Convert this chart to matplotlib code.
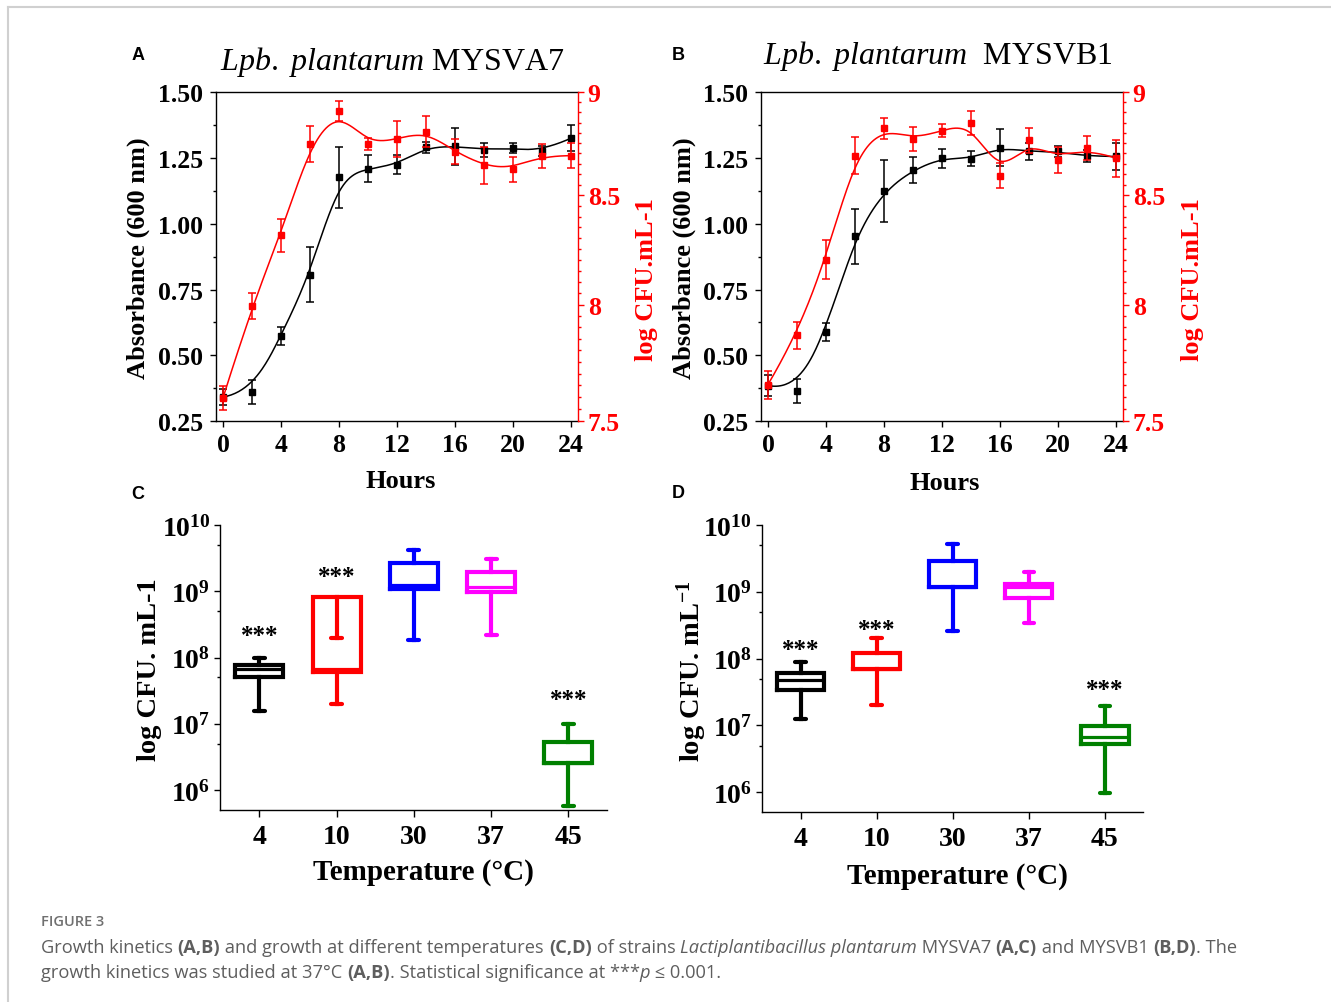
import numpy as np
import matplotlib
matplotlib.use("Agg")
import matplotlib.pyplot as plt
from matplotlib.ticker import (FixedLocator, FixedFormatter, MultipleLocator,
                               NullFormatter, FormatStrFormatter, FuncFormatter)
from matplotlib.lines import Line2D
from matplotlib.transforms import IdentityTransform

# ---------------- data ----------------
hours = [0, 2, 4, 6, 8, 10, 12, 14, 16, 18, 20, 22, 24]

A_od = [0.341, 0.360, 0.573, 0.806, 1.176, 1.209, 1.225, 1.291, 1.295, 1.282, 1.288, 1.276, 1.325]
A_od_err = [0.03, 0.045, 0.033, 0.105, 0.117, 0.052, 0.035, 0.02, 0.07, 0.027, 0.02, 0.02, 0.05]
A_cfu = [7.596, 7.996, 8.313, 8.746, 8.909, 8.746, 8.770, 8.806, 8.709, 8.642, 8.625, 8.689, 8.689]
A_cfu_err = [0.049, 0.058, 0.078, 0.089, 0.05, 0.03, 0.089, 0.076, 0.06, 0.088, 0.06, 0.058, 0.061]

B_od = [0.385, 0.363, 0.588, 0.953, 1.124, 1.204, 1.250, 1.247, 1.290, 1.275, 1.275, 1.257, 1.256]
B_od_err = [0.04, 0.045, 0.035, 0.105, 0.117, 0.05, 0.036, 0.028, 0.07, 0.033, 0.02, 0.022, 0.05]
B_cfu = [7.653, 7.865, 8.202, 8.689, 8.822, 8.770, 8.811, 8.847, 8.594, 8.763, 8.669, 8.725, 8.677]
B_cfu_err = [0.06, 0.06, 0.088, 0.09, 0.051, 0.058, 0.032, 0.06, 0.061, 0.061, 0.063, 0.059, 0.09]

od_ticks = [0.25, 0.50, 0.75, 1.00, 1.25, 1.50]
cfu_ticks = [7.5, 8.0, 8.5, 9.0]
hour_ticks = [0, 4, 8, 12, 16, 20, 24]

temperatures = ["4", "10", "30", "37", "45"]
box_colors = ["#000000", "#ff0000", "#0000ff", "#ff00ff", "#008000"]

C_whislo = [1.54e7, 2.0e7, 1.84e8, 2.16e8, 5.8e5]
C_q1 = [5.0e7, 6.0e7, 1.08e9, 9.6e8, 2.6e6]
C_med = [6.7e7, 6.7e7, 1.24e9, 1.17e9, 2.6e6]
C_q3 = [7.7e7, 8.3e8, 2.64e9, 1.95e9, 5.4e6]
C_whishi = [1.0e8, 2.0e8, 4.25e9, 3.03e9, 1.0e7]
C_stars = [2.18e8, 1.65e9, None, None, 2.3e7]

D_whislo = [1.25e7, 2.03e7, 2.6e8, 3.4e8, 9.7e5]
D_q1 = [3.44e7, 7.0e7, 1.17e9, 8.1e8, 5.3e6]
D_med = [4.85e7, 7.0e7, 1.17e9, 1.17e9, 6.7e6]
D_q3 = [6.0e7, 1.22e8, 2.86e9, 1.31e9, 9.7e6]
D_whishi = [9.0e7, 2.0e8, 5.2e9, 1.96e9, 1.98e7]
D_stars = [1.37e8, 2.7e8, None, None, 3.4e7]

log_ticks = [1e6, 1e7, 1e8, 1e9, 1e10]
log_tick_labels = [r"$\mathbf{10^{6}}$", r"$\mathbf{10^{7}}$", r"$\mathbf{10^{8}}$",
                   r"$\mathbf{10^{9}}$", r"$\mathbf{10^{10}}$"]
log_minor = [5e6, 5e7, 5e8, 5e9]

# ---------------- style ----------------
plt.rcParams["font.family"] = ["Liberation Serif", "DejaVu Serif"]
plt.rcParams["font.weight"] = "bold"
plt.rcParams["mathtext.fontset"] = "custom"
plt.rcParams["mathtext.rm"] = "Liberation Serif:weight=normal"
plt.rcParams["mathtext.it"] = "Liberation Serif:style=italic:weight=normal"
plt.rcParams["mathtext.bf"] = "Liberation Serif:weight=bold"
plt.rcParams["axes.linewidth"] = 1.0

W, H = 1331, 1003
fig = plt.figure(figsize=(W / 100, H / 100), dpi=100)
fig.patch.set_facecolor("white")


def rect_px(left, top, right, bottom):
    return [left / W, 1 - bottom / H, (right - left) / W, (bottom - top) / H]


def ftext(x, y, s, **kw):
    """text at figure pixel coordinates (origin top-left)"""
    return fig.text(x / W, 1 - y / H, s, **kw)


def bspline_curve(x, y, num=400, k=3):
    P = np.column_stack([x, y]).astype(float)
    m = len(P)
    knots = np.concatenate([np.zeros(k), np.arange(m - k + 1), np.full(k, m - k)]).astype(float)
    u = np.linspace(0, m - k, num)
    u[-1] = (m - k) - 1e-9
    B = np.array([(knots[i] <= u) & (u < knots[i + 1]) for i in range(len(knots) - 1)], dtype=float)
    for p in range(1, k + 1):
        Bn = np.zeros((len(knots) - 1 - p, num))
        for i in range(len(knots) - 1 - p):
            d1 = knots[i + p] - knots[i]
            d2 = knots[i + p + 1] - knots[i + 1]
            t1 = (u - knots[i]) / d1 * B[i] if d1 > 0 else 0
            t2 = (knots[i + p + 1] - u) / d2 * B[i + 1] if d2 > 0 else 0
            Bn[i] = t1 + t2
        B = Bn
    Cc = B.T @ P
    return Cc[:, 0], Cc[:, 1]


LBL = 19
TCK = 18.5


def growth_panel(rect, t, od, od_err, cfu, cfu_err):
    ax = fig.add_axes(rect)
    ax2 = ax.twinx()
    ax2.set_yscale("log")
    xs, ys = bspline_curve(t, od)
    ax.plot(xs, ys, color="black", lw=1.1, zorder=2)
    ax.errorbar(t, od, yerr=od_err, fmt="s", color="black", ms=5, capsize=3,
                elinewidth=1.1, capthick=1.1, zorder=3)
    # spline drawn in screen (log) space of the right axis
    xs, ys = bspline_curve(t, np.log10(cfu))
    ax2.plot(xs, 10 ** ys, color="red", lw=1.1, zorder=2)
    ax2.errorbar(t, cfu, yerr=cfu_err, fmt="s", color="red", ms=5, capsize=3,
                 elinewidth=1.1, capthick=1.1, zorder=3)

    ax.set_xlim(-0.5, 24.5)
    ax.set_ylim(0.25, 1.5)
    ax.xaxis.set_major_locator(FixedLocator(hour_ticks))
    ax.yaxis.set_major_locator(FixedLocator(od_ticks))
    ax.yaxis.set_major_formatter(FormatStrFormatter("%.2f"))
    ax.yaxis.set_minor_locator(MultipleLocator(0.125))
    ax.tick_params(axis="both", which="major", direction="out", length=4, width=1,
                   labelsize=TCK, pad=5)
    ax.tick_params(axis="y", which="minor", direction="out", length=2.5, width=1)
    ax.spines["right"].set_visible(False)

    ax2.set_ylim(7.5, 9.0)
    ax2.yaxis.set_major_locator(FixedLocator(cfu_ticks))
    ax2.yaxis.set_major_formatter(FuncFormatter(lambda v, p: f"{v:g}"))
    ax2.yaxis.set_minor_locator(MultipleLocator(0.05))
    ax2.yaxis.set_minor_formatter(NullFormatter())
    ax2.tick_params(axis="y", which="major", direction="out", length=4, width=1,
                    labelsize=TCK, pad=3, colors="red")
    ax2.tick_params(axis="y", which="minor", direction="out", length=2.5, width=1, colors="red")
    for s in ["left", "top", "bottom"]:
        ax2.spines[s].set_visible(False)
    ax2.spines["right"].set_color("red")
    return ax, ax2


def box_panel(rect, whislo, q1, med, q3, whishi, stars):
    ax = fig.add_axes(rect)
    ax.set_yscale("log")
    stats = [dict(med=med[i], q1=q1[i], q3=q3[i], whislo=whislo[i], whishi=whishi[i], fliers=[])
             for i in range(len(temperatures))]
    pos = list(range(1, len(temperatures) + 1))
    art = ax.bxp(stats, positions=pos, widths=0.62, capwidths=0.14, showfliers=False,
                 manage_ticks=False)
    for i, c in enumerate(box_colors):
        art["boxes"][i].set(color=c, lw=3.0, solid_joinstyle="miter")
        art["medians"][i].set(color=c, lw=2.3)
        for j in (2 * i, 2 * i + 1):
            art["whiskers"][j].set(color=c, lw=3.0)
            art["caps"][j].set(color=c, lw=3.0, solid_capstyle="round")
    for p, s in zip(pos, stars):
        if s is not None:
            ax.text(p, s, "***", ha="center", va="center", fontsize=18, color="black")
    ax.set_ylim(5e5, 1e10)
    ax.set_xlim(0.49, 5.5)
    ax.yaxis.set_major_locator(FixedLocator(log_ticks))
    ax.yaxis.set_major_formatter(FixedFormatter(log_tick_labels))
    ax.yaxis.set_minor_locator(FixedLocator(log_minor))
    ax.yaxis.set_minor_formatter(NullFormatter())
    ax.set_xticks(pos)
    ax.set_xticklabels(temperatures)
    ax.tick_params(axis="y", which="major", direction="out", length=4, width=1,
                   labelsize=20, pad=3)
    ax.tick_params(axis="y", which="minor", direction="out", length=2.5, width=1)
    ax.tick_params(axis="x", which="major", direction="out", length=5, width=1,
                   labelsize=20, pad=5)
    ax.spines["top"].set_visible(False)
    ax.spines["right"].set_visible(False)
    return ax


# ---------------- panels ----------------
growth_panel(rect_px(215.7, 93.3, 578, 422), hours, A_od, A_od_err, A_cfu, A_cfu_err)
growth_panel(rect_px(760.7, 93.3, 1123, 422), hours, B_od, B_od_err, B_cfu, B_cfu_err)
box_panel(rect_px(220, 526, 607, 811), C_whislo, C_q1, C_med, C_q3, C_whishi, C_stars)
box_panel(rect_px(761.7, 526, 1143, 813.3), D_whislo, D_q1, D_med, D_q3, D_whishi, D_stars)

# titles
ftext(392, 70, r"$\mathit{Lpb.\ plantarum}$ MYSVA7", ha="center", va="baseline",
      fontsize=23, fontweight="normal")
ftext(938, 64, r"$\mathit{Lpb.\ plantarum}$  MYSVB1", ha="center", va="baseline",
      fontsize=23, fontweight="normal")

# axis labels
for x in (138, 684):
    ftext(x, 258, "Absorbance (600 nm)", rotation=90, ha="center", va="center", fontsize=LBL)
for x in (647, 1193):
    ftext(x, 280, "log CFU.mL-1", rotation=90, ha="center", va="center", fontsize=LBL,
          color="red")
ftext(401, 482, "Hours", ha="center", va="center", fontsize=LBL)
ftext(945, 483, "Hours", ha="center", va="center", fontsize=LBL)
ftext(149, 670, "log CFU. mL-1", rotation=90, ha="center", va="center", fontsize=20.5)
ftext(692, 671, r"log CFU. mL$^{\mathbf{-1}}$", rotation=90, ha="center", va="center",
      fontsize=20.5)
ftext(423, 873, "Temperature (°C)", ha="center", va="center", fontsize=21)
ftext(957, 877, "Temperature (°C)", ha="center", va="center", fontsize=21)

# panel letters
for lab, x, y in [("A", 138, 55), ("B", 678, 55), ("C", 138, 495), ("D", 678, 494)]:
    ftext(x, y, lab, ha="center", va="center", fontsize=13, fontweight="bold",
          family=["Liberation Sans", "DejaVu Sans"])

# frame lines
fig.add_artist(Line2D([8 / W, 1.0], [1 - 8 / H, 1 - 8 / H], transform=fig.transFigure,
                      color="#d0d0d0", lw=1.5))
fig.add_artist(Line2D([8 / W, 8 / W], [0, 1 - 8 / H], transform=fig.transFigure,
                      color="#d0d0d0", lw=1.5))

# ---------------- caption ----------------
cap_family = ["Open Sans", "DejaVu Sans"]
cap1 = [("Growth kinetics ", ""), ("(A,B)", "b"), (" and growth at different temperatures ", ""),
        ("(C,D)", "b"), (" of strains ", ""), ("Lactiplantibacillus plantarum", "i"),
        (" MYSVA7 ", ""), ("(A,C)", "b"), (" and MYSVB1 ", ""), ("(B,D)", "b"), (". The", "")]
cap2 = [("growth kinetics was studied at 37°C ", ""), ("(A,B)", "b"),
        (". Statistical significance at ***", ""), ("p", "i"), (" ≤ 0.001.", "")]

renderer = fig.canvas.get_renderer()


def run_width(text, style, size):
    kw = dict(fontsize=size, family=cap_family,
              fontweight="bold" if "b" in style else "normal",
              fontstyle="italic" if "i" in style else "normal")
    t1 = fig.text(0, 0, text + "|", transform=IdentityTransform(), **kw)
    t2 = fig.text(0, 0, "|", transform=IdentityTransform(), **kw)
    w = t1.get_window_extent(renderer).width - t2.get_window_extent(renderer).width
    t1.remove()
    t2.remove()
    return w


def draw_runs(x, ytop_baseline, runs, size, color):
    y = H - ytop_baseline
    for text, style in runs:
        fig.text(x, y, text, transform=IdentityTransform(), fontsize=size, family=cap_family,
                 fontweight="bold" if "b" in style else "normal",
                 fontstyle="italic" if "i" in style else "normal",
                 color=color, va="baseline", ha="left")
        x += run_width(text, style, size)


ref = 12.0
w1 = sum(run_width(t, s, ref) for t, s in cap1)
cap_size = ref * (1231 - 41) / w1
draw_runs(41, 953, cap1, cap_size, "#5e5e5e")
draw_runs(41, 978, cap2, cap_size, "#5e5e5e")
fig.text(41, H - 926, "FIGURE 3", transform=IdentityTransform(), fontsize=cap_size * 0.8,
         family=cap_family, fontweight="semibold", color="#707070", va="baseline")

fig.savefig("out.png", dpi=100)
